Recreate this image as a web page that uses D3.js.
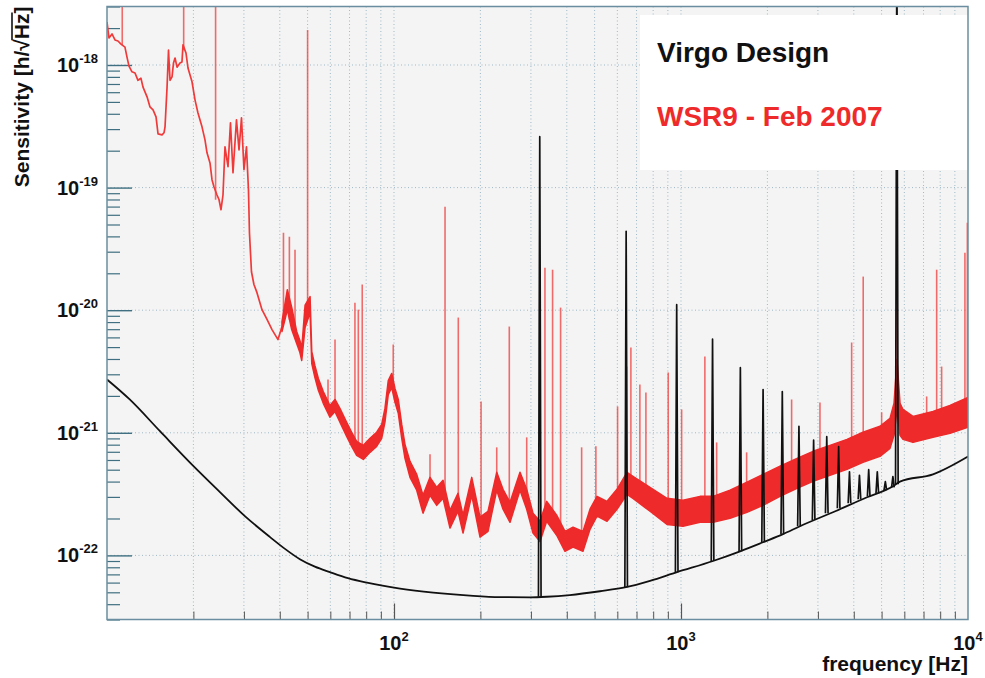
<!DOCTYPE html>
<html>
<head>
<meta charset="utf-8">
<script src="https://cdn.jsdelivr.net/npm/d3@7/dist/d3.min.js"></script>
<style>
  body { margin: 0; background: #fff; }
  svg text { font-family: "Liberation Sans", Arial, sans-serif; font-weight: bold; }
</style>
</head>
<body>
<div class="chart"></div>
<script>
var values = {
  width: 985,
  height: 678,
  left: 107,
  right: 968,
  top: 6.5,
  bottom: 619.5
};

// x tick labels (exponents of 10) and y tick labels
var xMajor = [100, 1000, 10000];
var xMajorLabels = ["2", "3", "4"];
var yMajor = [1e-18, 1e-19, 1e-20, 1e-21, 1e-22];
var yMajorLabels = ["-18", "-19", "-20", "-21", "-22"];

// Virgo design curve, smooth part [Hz, h/sqrt(Hz)]
var designBase = [
  [10, 2.72e-21], [12.0, 1.87e-21], [15.3, 1.03e-21], [20.1, 5.3e-22], [24.8, 3.27e-22],
  [30.3, 2.08e-22], [37.0, 1.41e-22], [41.7, 1.13e-22], [47.0, 9.31e-23], [53.0, 8.09e-23],
  [59.8, 7.3e-23], [69.1, 6.52e-23], [80.5, 5.99e-23], [105, 5.36e-23], [137, 4.97e-23],
  [184, 4.7e-23], [234, 4.57e-23], [298, 4.55e-23], [341, 4.6e-23], [410, 4.75e-23],
  [522, 5.1e-23], [643, 5.5e-23], [780, 6.2e-23], [968, 7.3e-23], [1293, 9.0e-23],
  [1606, 1.08e-22], [1931, 1.28e-22], [2267, 1.49e-22], [2598, 1.73e-22], [3385, 2.25e-22],
  [4448, 2.98e-22], [5481, 3.66e-22], [5794, 4.0e-22], [7551, 4.58e-22], [10000, 6.4e-22]
];

// violin modes of the design curve [Hz, base, peak]
var violinModes = [
  [322, 4.6e-23, 2.6e-19], [644, 5.5e-23, 4.4e-20], [966, 7.3e-23, 1.11e-20],
  [1288, 9.0e-23, 5.8e-21], [1610, 1.08e-22, 3.4e-21], [1932, 1.28e-22, 2.25e-21],
  [2254, 1.49e-22, 2.17e-21], [2576, 1.73e-22, 1.13e-21], [2898, 1.94e-22, 8.7e-22],
  [3220, 2.21e-22, 9.3e-22], [3542, 2.42e-22, 7.7e-22], [3864, 2.66e-22, 4.8e-22],
  [4186, 2.87e-22, 4.5e-22], [4508, 3.03e-22, 5.0e-22], [4830, 3.21e-22, 4.8e-22],
  [5152, 3.4e-22, 4.0e-22], [5474, 3.59e-22, 4.4e-22], [5650, 3.8e-22, 1e-17]
];

// WSR9 low frequency part (thin trace) [Hz, h]
var wsrLow = [
  [10.0, 2.24e-18], [10.16, 1.66e-18], [10.41, 1.79e-18], [10.66, 1.60e-18], [10.92, 1.57e-18],
  [11.19, 1.48e-18], [11.55, 1.40e-18], [11.74, 1.16e-18], [11.93, 9.8e-19], [12.22, 8.8e-19],
  [12.52, 8.6e-19], [12.82, 7.5e-19], [13.13, 7.8e-19], [13.35, 6.6e-19], [13.79, 5.5e-19],
  [14.12, 4.55e-19], [14.47, 4.3e-19], [14.82, 3.77e-19], [15.06, 2.74e-19], [15.55, 2.69e-19],
  [15.80, 2.8e-19], [15.93, 3.13e-19], [16.19, 6.6e-19], [16.38, 1.32e-18], [16.58, 7.5e-19],
  [16.85, 8.0e-19], [17.05, 1.04e-18], [17.26, 1.14e-18], [17.54, 9.6e-19], [17.96, 1.04e-18],
  [18.25, 1.06e-18], [18.40, 1.46e-18], [18.85, 1.25e-18], [19.15, 9.45e-19], [19.78, 7.3e-19],
  [20.26, 5.2e-19], [20.75, 4.06e-19], [21.43, 3.13e-19], [21.95, 2.45e-19], [22.31, 1.92e-19],
  [22.85, 1.59e-19], [23.22, 1.16e-19], [23.60, 1.01e-19], [24.17, 8.7e-20], [24.56, 8.0e-20],
  [24.96, 6.6e-20], [25.36, 8.7e-20], [25.77, 2.15e-19], [26.40, 1.48e-19], [26.93, 3.37e-19],
  [27.48, 1.32e-19], [28.26, 3.57e-19], [28.84, 2.03e-19], [29.42, 3.7e-19], [30.01, 1.4e-19],
  [30.62, 2.15e-19], [31.11, 9.6e-20], [31.36, 4.28e-20], [31.87, 2.06e-20], [32.51, 1.62e-20],
  [33.31, 1.39e-20], [34.68, 1.01e-20], [36.10, 8.4e-21], [37.58, 6.95e-21], [39.43, 5.76e-21],
  [40.72, 7.35e-21]
];

// WSR9 noise band above 40 Hz [Hz, lower, upper]
var wsrBand = [
  [40.7, 6.7e-21, 8.08e-21], [41.7, 8.39e-21, 1.13e-20], [42.5, 1.01e-20, 1.47e-20],
  [44.0, 6.95e-21, 1.06e-20], [45.8, 5.35e-21, 6.7e-21], [47.0, 4.52e-21, 5.66e-21],
  [47.7, 3.89e-21, 4.87e-21], [49.0, 7.22e-21, 1.1e-20], [51.0, 9.56e-21, 1.29e-20],
  [51.7, 3.67e-21, 4.6e-21], [53.0, 2.83e-21, 3.54e-21], [54.5, 2.22e-21, 2.77e-21],
  [56.7, 1.74e-21, 2.17e-21], [59.8, 1.34e-21, 1.67e-21], [62.3, 1.49e-21, 1.87e-21],
  [64.8, 1.22e-21, 1.58e-21], [68.4, 9.35e-22, 1.22e-21], [71.2, 7.75e-22, 1.01e-21],
  [74.1, 6.55e-22, 8.51e-22], [78.2, 6.07e-22, 7.9e-22], [82.5, 6.93e-22, 9.01e-22],
  [87.0, 7.75e-22, 1.01e-21], [90.6, 9.01e-22, 1.17e-21], [93.0, 1.22e-21, 1.58e-21],
  [95.5, 2.05e-21, 2.67e-21], [98.2, 2.34e-21, 3.05e-21], [100.8, 1.77e-21, 2.3e-21],
  [103.5, 1.44e-21, 1.87e-21], [106.4, 9.01e-22, 1.17e-21], [109.2, 6.19e-22, 8.05e-22],
  [113.7, 4.33e-22, 5.85e-22], [120.0, 3.4e-22, 4.58e-22], [126.2, 2.21e-22, 3.09e-22],
  [133.5, 3.09e-22, 4.33e-22], [140.9, 2.56e-22, 3.59e-22], [148.2, 2.92e-22, 4.1e-22],
  [156.7, 1.67e-22, 2.33e-22], [167.1, 2.29e-22, 3.21e-22], [174.0, 1.52e-22, 2.13e-22],
  [186.6, 3.09e-22, 4.33e-22], [199.4, 1.41e-22, 2.05e-22], [212.6, 1.57e-22, 2.29e-22],
  [228.0, 3.4e-22, 4.76e-22], [239.8, 2.38e-22, 3.46e-22], [253.7, 1.86e-22, 2.71e-22],
  [274.8, 3.4e-22, 4.76e-22], [290.0, 2.38e-22, 3.46e-22], [305.0, 1.52e-22, 2.21e-22],
  [322.6, 1.3e-22, 1.9e-22], [340.5, 1.9e-22, 2.76e-22], [368.8, 1.46e-22, 2.13e-22],
  [394.3, 1.08e-22, 1.57e-22], [420.5, 1.17e-22, 1.7e-22], [455.5, 1.08e-22, 1.57e-22],
  [481.9, 1.63e-22, 2.38e-22], [509.8, 2.09e-22, 3.03e-22], [552.4, 1.9e-22, 2.76e-22],
  [598.4, 2.38e-22, 3.46e-22], [648.3, 3.15e-22, 4.76e-22], [680.1, 2.92e-22, 4.42e-22],
  [779.8, 2.29e-22, 3.59e-22], [893.9, 1.79e-22, 2.92e-22], [1016, 1.73e-22, 2.82e-22],
  [1165, 1.86e-22, 3.03e-22], [1293, 1.86e-22, 3.03e-22], [1482, 2.01e-22, 3.4e-22],
  [1698, 2.25e-22, 3.95e-22], [1931, 2.56e-22, 4.58e-22], [2213, 3.03e-22, 5.33e-22],
  [2537, 3.52e-22, 6.19e-22], [2884, 4.02e-22, 7.06e-22], [3305, 4.5e-22, 7.9e-22],
  [3788, 5.03e-22, 8.84e-22], [4306, 5.74e-22, 1.01e-21], [4936, 6.43e-22, 1.13e-21],
  [5348, 7.46e-22, 1.31e-21], [5524, 9.53e-22, 1.74e-21], [5656, 1.55e-21, 3.96e-21],
  [5796, 9.53e-22, 1.74e-21], [5936, 8.84e-22, 1.55e-21], [6432, 8.35e-22, 1.36e-21],
  [7551, 9.18e-22, 1.49e-21], [8654, 9.89e-22, 1.67e-21], [10000, 1.11e-21, 1.94e-21]
];

// WSR9 narrow lines [Hz, base, peak]
var wsrLines = [
  [11.3, 1.45e-18, 5e-18], [18.5, 1.32e-18, 5e-18], [23.9, 7.96e-20, 5e-18],
  [41.2, 8.39e-21, 4.28e-20], [43.2, 8.39e-21, 3.98e-20], [45.2, 6.95e-21, 3.11e-20],
  [50.0, 8.39e-21, 1.93e-18], [58.9, 1.55e-21, 2.72e-21], [62.3, 1.55e-21, 5.76e-21],
  [73.1, 8.05e-22, 1.15e-20], [75.1, 7.33e-22, 1.01e-20], [77.5, 7.06e-22, 1.62e-20],
  [99.4, 2.48e-21, 5.25e-21], [133.5, 3.66e-22, 6.67e-22], [150.6, 3.46e-22, 6.98e-20],
  [167.5, 2.71e-22, 8.71e-21], [201.1, 1.97e-22, 1.8e-21], [228, 3.8e-22, 7.61e-22],
  [252.2, 2.38e-22, 7.35e-21], [290, 2.87e-22, 9.18e-22], [335.7, 2.17e-22, 2.22e-20],
  [356.9, 1.97e-22, 2.14e-20], [380.6, 1.63e-22, 1.05e-20], [450.6, 1.35e-22, 7.61e-22],
  [505.1, 2.47e-22, 7.75e-22], [601.2, 2.87e-22, 1.64e-21], [646.1, 3.87e-22, 3.47e-21],
  [669, 3.73e-22, 4.96e-21], [719, 3.03e-22, 2.48e-21], [754.6, 2.98e-22, 2.13e-21],
  [902.4, 2.29e-22, 3.1e-21], [1005, 2.21e-22, 1.55e-21], [1211, 2.38e-22, 4.19e-21],
  [1331, 2.47e-22, 8.35e-22], [1693, 2.98e-22, 6.93e-22], [2429, 4.5e-22, 1.87e-21],
  [3049, 5.85e-22, 1.77e-21], [3932, 6.93e-22, 5.45e-21], [4314, 7.61e-22, 1.88e-20],
  [5001, 8.51e-22, 1.47e-21], [5654, 1.87e-21, 5e-18], [7177, 1.15e-21, 1.98e-21],
  [7777, 1.17e-21, 2.14e-20], [8093, 1.19e-21, 3.47e-21], [9756, 1.47e-21, 2.94e-20],
  [9950, 1.47e-21, 5.17e-20]
];

var legendNames = ["Virgo Design", "WSR9 - Feb 2007"];
var labelX = "frequency [Hz]";

var x = d3.scaleLog().domain([10, 1e4]).range([values.left, values.right]);
var y = d3.scaleLog().domain([3e-23, 3e-18]).range([values.bottom, values.top]);

var axisColor = "#6a8ea0";
var gridColor = "#9fb9c6";
var red = "#ee2a2a";

var svg = d3.select('.chart')
  .append('svg')
  .attr("width", values.width)
  .attr("height", values.height);

svg.append("defs").append("clipPath")
  .attr("id", "plotclip")
  .append("rect")
  .attr("x", values.left)
  .attr("y", values.top)
  .attr("width", values.right - values.left)
  .attr("height", values.bottom - values.top);

// plot background
svg.append("rect")
  .attr("x", values.left)
  .attr("y", values.top)
  .attr("width", values.right - values.left)
  .attr("height", values.bottom - values.top)
  .attr("fill", "#f4f4f4");

var isMajor = function (v) {
  var l = Math.log10(v);
  return Math.abs(l - Math.round(l)) < 1e-6;
};

var xTicks = x.ticks().filter(d => d > 10 && d < 1e4);
var yTicks = y.ticks().filter(d => d >= 3e-23 && d <= 3e-18);

// dotted grid: every x tick, only y decades
svg.append("g")
  .selectAll("line")
  .data(xTicks)
  .enter()
  .append("line")
  .attr("x1", d => x(d)).attr("x2", d => x(d))
  .attr("y1", values.top).attr("y2", values.bottom)
  .attr("stroke", gridColor)
  .attr("stroke-width", 1)
  .attr("stroke-dasharray", "1,2.5");

svg.append("g")
  .selectAll("line")
  .data(yMajor)
  .enter()
  .append("line")
  .attr("x1", values.left).attr("x2", values.right)
  .attr("y1", d => y(d)).attr("y2", d => y(d))
  .attr("stroke", gridColor)
  .attr("stroke-width", 1)
  .attr("stroke-dasharray", "1,2.5");

// ticks on the left axis (pointing inside)
svg.append("g")
  .attr("transform", "translate(" + values.left + ",0)")
  .call(d3.axisRight(y).tickValues(yTicks.filter(d => !isMajor(d))).tickSize(13).tickFormat(""))
  .call(g => g.select(".domain").remove())
  .selectAll("line").attr("stroke", "#3f6f80").attr("stroke-width", 1.2);
svg.append("g")
  .attr("transform", "translate(" + values.left + ",0)")
  .call(d3.axisRight(y).tickValues(yMajor).tickSize(25).tickFormat(""))
  .call(g => g.select(".domain").remove())
  .selectAll("line").attr("stroke", "#3f6f80").attr("stroke-width", 1.4);

// ticks on the bottom axis (pointing up)
svg.append("g")
  .attr("transform", "translate(0," + values.bottom + ")")
  .call(d3.axisTop(x).tickValues(xTicks.filter(d => !isMajor(d))).tickSize(8).tickFormat(""))
  .call(g => g.select(".domain").remove())
  .selectAll("line").attr("stroke", "#555").attr("stroke-width", 1);
svg.append("g")
  .attr("transform", "translate(0," + values.bottom + ")")
  .call(d3.axisTop(x).tickValues(xMajor.filter(d => d < 1e4)).tickSize(16).tickFormat(""))
  .call(g => g.select(".domain").remove())
  .selectAll("line").attr("stroke", "#555").attr("stroke-width", 1.2);

var plot = svg.append("g").attr("clip-path", "url(#plotclip)");

// WSR9 measured sensitivity
plot.append("g")
  .selectAll("path")
  .data(wsrLines)
  .enter()
  .append("path")
  .attr("d", d => "M" + x(d[0]) + "," + y(d[1]) + "V" + y(d[2]))
  .attr("stroke", "#f03c3c")
  .attr("stroke-opacity", 0.75)
  .attr("stroke-width", 1.6)
  .attr("fill", "none");

plot.append("path")
  .datum(wsrLow)
  .attr("d", d3.line().x(d => x(d[0])).y(d => y(d[1])))
  .attr("fill", "none")
  .attr("stroke", "#f03a3a")
  .attr("stroke-width", 1.7)
  .attr("stroke-linejoin", "round");

plot.append("path")
  .datum(wsrBand)
  .attr("d", d3.area().x(d => x(d[0])).y0(d => y(d[1])).y1(d => y(d[2])))
  .attr("fill", red)
  .attr("stroke", red)
  .attr("stroke-width", 1.5)
  .attr("stroke-linejoin", "round");

// Virgo design curve
plot.append("path")
  .datum(designBase)
  .attr("d", d3.line().curve(d3.curveMonotoneX).x(d => x(d[0])).y(d => y(d[1])))
  .attr("fill", "none")
  .attr("stroke", "#111")
  .attr("stroke-width", 1.8);

plot.append("g")
  .selectAll("path")
  .data(violinModes)
  .enter()
  .append("path")
  .attr("d", d => "M" + (x(d[0]) - 1.3) + "," + y(d[1]) + "L" + x(d[0]) + "," + y(d[2]) +
    "L" + (x(d[0]) + 1.3) + "," + y(d[1]))
  .attr("fill", "none")
  .attr("stroke", "#111")
  .attr("stroke-width", 1.7)
  .attr("stroke-linejoin", "round");

// legend box
svg.append("rect")
  .attr("x", 640)
  .attr("y", 15)
  .attr("width", values.right - 640)
  .attr("height", 155)
  .attr("fill", "#fff");

svg.append("text")
  .attr("x", 657)
  .attr("y", 62)
  .attr("font-size", 28)
  .attr("fill", "#111")
  .text(legendNames[0]);
svg.append("text")
  .attr("x", 657)
  .attr("y", 126)
  .attr("font-size", 28)
  .attr("fill", red)
  .text(legendNames[1]);

// frame
svg.append("rect")
  .attr("x", values.left)
  .attr("y", values.top)
  .attr("width", values.right - values.left)
  .attr("height", values.bottom - values.top)
  .attr("fill", "none")
  .attr("stroke", axisColor)
  .attr("stroke-width", 1.5);

// y tick labels 10^n
var yl = svg.append("g").selectAll("text")
  .data(yMajor)
  .enter()
  .append("text")
  .attr("x", 98)
  .attr("y", d => y(d) + 7)
  .attr("text-anchor", "end")
  .attr("fill", "#111");
yl.append("tspan").attr("font-size", 20).text("10");
yl.append("tspan").attr("font-size", 13).attr("dy", -9).text((d, i) => yMajorLabels[i]);

// x tick labels 10^n
var xl = svg.append("g").selectAll("text")
  .data(xMajor)
  .enter()
  .append("text")
  .attr("x", d => x(d))
  .attr("y", 650)
  .attr("text-anchor", "middle")
  .attr("fill", "#111");
xl.append("tspan").attr("font-size", 20).text("10");
xl.append("tspan").attr("font-size", 13).attr("dy", -9).text((d, i) => xMajorLabels[i]);

// axis titles
svg.append("text")
  .attr("x", values.right)
  .attr("y", 671)
  .attr("text-anchor", "end")
  .attr("font-size", 21)
  .attr("fill", "#111")
  .text(labelX);

var yTitle = svg.append("g")
  .attr("transform", "translate(29," + values.top + ") rotate(-90)");
var yt = yTitle.append("text")
  .attr("x", 0)
  .attr("y", 0)
  .attr("text-anchor", "end")
  .attr("font-size", 21)
  .attr("fill", "#111");
yt.append("tspan").text("Sensitivity [h/\u221A");
yt.append("tspan").text("Hz");
yt.append("tspan").text("]");

// overline of the square root, placed from the measured text
var node = yt.node();
var total = node.getComputedTextLength();
var pre = node.getSubStringLength(0, 16);
var hz = node.getSubStringLength(16, 2);
yTitle.append("line")
  .attr("x1", -total + pre - 1)
  .attr("x2", -total + pre + hz + 1)
  .attr("y1", -17)
  .attr("y2", -17)
  .attr("stroke", "#111")
  .attr("stroke-width", 1.6);
</script>
</body>
</html>
